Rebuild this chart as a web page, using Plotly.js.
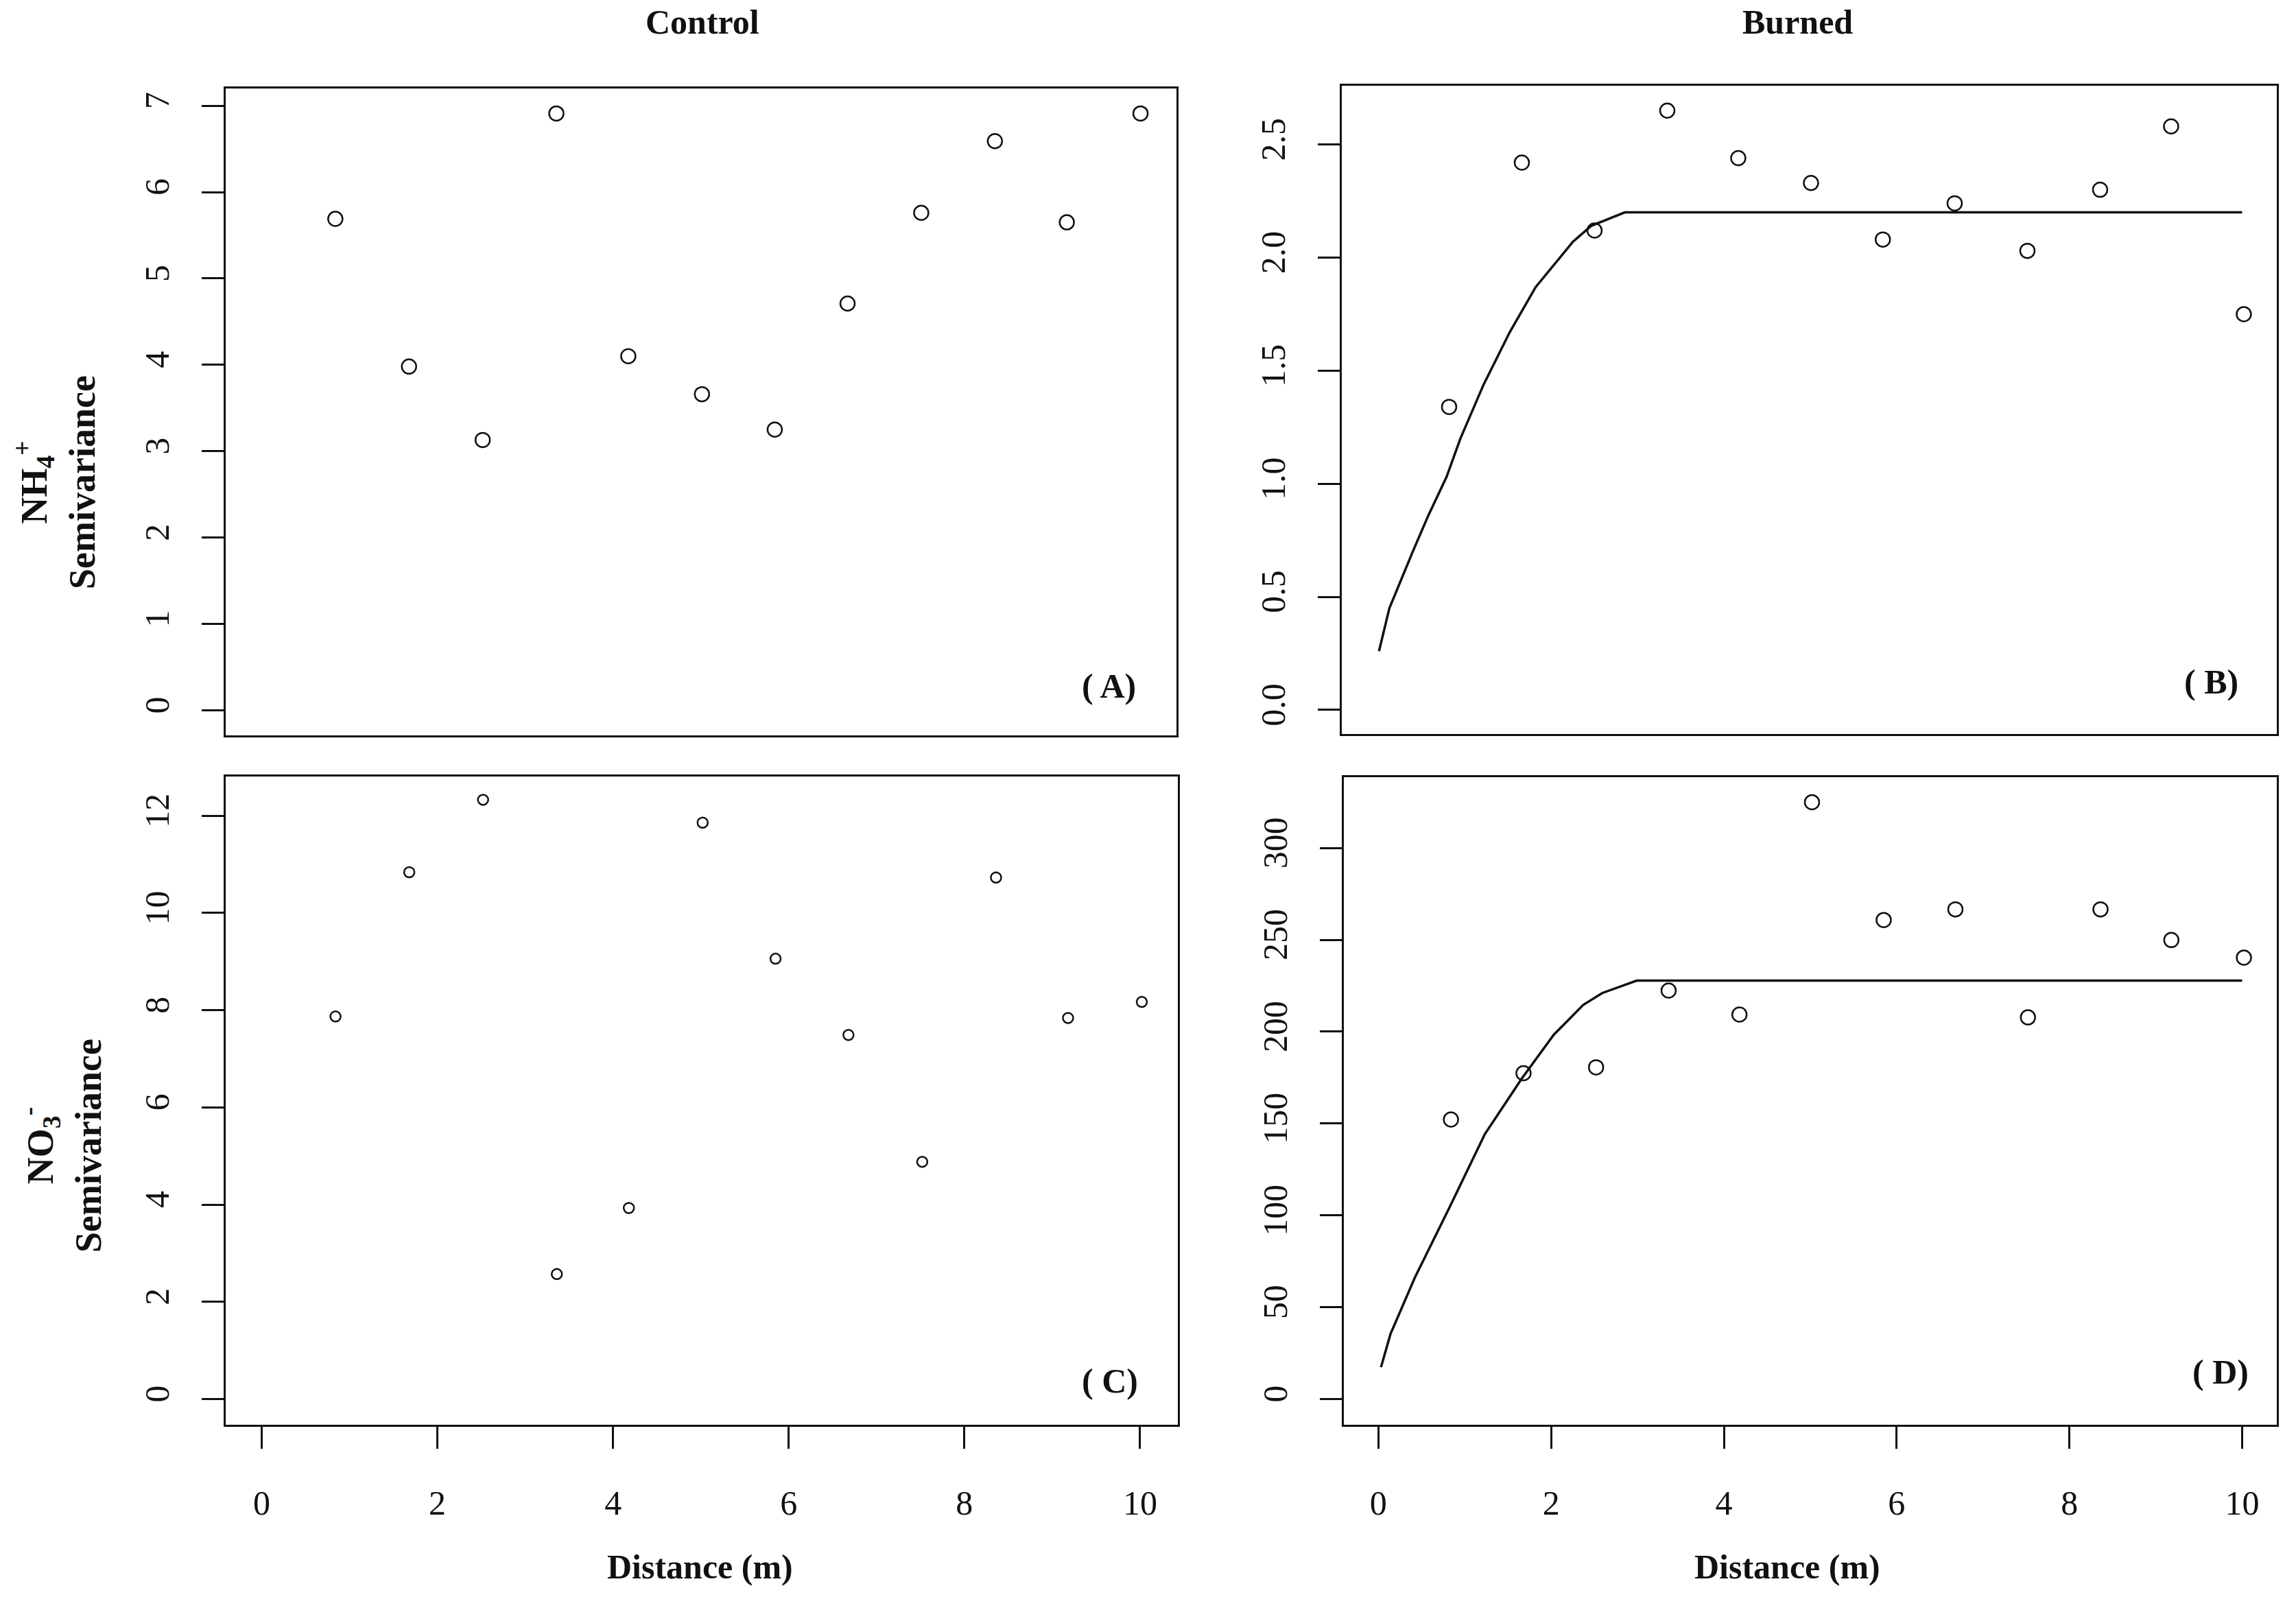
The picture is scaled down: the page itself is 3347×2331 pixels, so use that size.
<!DOCTYPE html>
<html>
<head>
<meta charset="utf-8">
<script src="https://cdn.plot.ly/plotly-3.0.1.min.js"></script>
<style>
  html, body { margin: 0; padding: 0; background: #fff; }
  #chart { width: 3347px; height: 2331px; }
</style>
</head>
<body>
<div id="chart"></div>
<script>
// Lag distances (m) of the experimental semivariograms
const lag = [0.84, 1.68, 2.52, 3.36, 4.18, 5.02, 5.85, 6.68, 7.52, 8.36, 9.18, 10.02];

const nh4Control = [5.69, 3.98, 3.13, 6.91, 4.10, 3.66, 3.25, 4.71, 5.76, 6.59, 5.65, 6.91];
const nh4Burned = [1.34, 2.42, 2.12, 2.65, 2.44, 2.33, 2.08, 2.24, 2.03, 2.30, 2.58, 1.75];
const no3Control = [7.87, 10.84, 12.33, 2.57, 3.93, 11.86, 9.06, 7.49, 4.88, 10.73, 7.84, 8.17];
const no3Burned = [152.2, 177.4, 180.6, 222.4, 209.3, 324.9, 260.8, 266.6, 207.8, 266.6, 249.9, 240.3];

// Fitted model lines (burned plots)
const nh4FitDist = [0.03, 0.15, 0.42, 0.60, 0.81, 0.97, 1.24, 1.54, 1.84, 2.27, 2.48, 2.87, 10.0];
const nh4FitGamma = [0.26, 0.45, 0.70, 0.86, 1.03, 1.20, 1.44, 1.67, 1.87, 2.07, 2.14, 2.20, 2.20];
const no3FitDist = [0.03, 0.14, 0.42, 0.82, 1.23, 1.66, 2.03, 2.37, 2.59, 2.99, 10.0];
const no3FitGamma = [17.3, 35.4, 65.9, 104, 144, 174.5, 198.3, 214.5, 221, 227.8, 227.8];

// Tick labels
const xTicks = [0, 2, 4, 6, 8, 10];
const nh4CtrlTicks = [0, 1, 2, 3, 4, 5, 6, 7];
const nh4BurnTicks = [0, 0.5, 1.0, 1.5, 2.0, 2.5];
const no3CtrlTicks = [0, 2, 4, 6, 8, 10, 12];
const no3BurnTicks = [0, 50, 100, 150, 200, 250, 300];

const SERIF = "'Liberation Serif', 'Times New Roman', serif";
const INK = '#111';

function points(x, y, xa, ya, size) {
    return {
        type: 'scatter', mode: 'markers', x: x, y: y, xaxis: xa, yaxis: ya,
        marker: { symbol: 'circle-open', size: size, color: INK, line: { width: 2.5, color: INK } },
        showlegend: false, hoverinfo: 'x+y'
    };
}

function fitLine(x, y, xa, ya) {
    return {
        type: 'scatter', mode: 'lines', x: x, y: y, xaxis: xa, yaxis: ya,
        line: { color: INK, width: 3.5 },
        showlegend: false, hoverinfo: 'skip'
    };
}

const data = [
    points(lag, nh4Control, 'x', 'y', 21),
    points(lag, nh4Burned, 'x2', 'y2', 21),
    points(lag, no3Control, 'x3', 'y3', 15),
    points(lag, no3Burned, 'x4', 'y4', 21),
    fitLine(nh4FitDist, nh4FitGamma, 'x2', 'y2'),
    fitLine(no3FitDist, no3FitGamma, 'x4', 'y4')
];

function xAxis(domain, range, anchor, showTicks) {
    return {
        domain: domain, range: range, anchor: anchor,
        showgrid: false, zeroline: false,
        showline: true, mirror: true, linecolor: INK, linewidth: 3,
        tickmode: 'array', tickvals: xTicks,
        ticks: showTicks ? 'outside' : '', ticklen: 32, tickwidth: 3, tickcolor: INK,
        showticklabels: showTicks, ticklabelstandoff: 36,
        tickfont: { family: SERIF, size: 50, color: INK }
    };
}

function yAxis(domain, range, anchor, vals, fmt) {
    return {
        domain: domain, range: range, anchor: anchor,
        showgrid: false, zeroline: false,
        showline: true, mirror: true, linecolor: INK, linewidth: 3,
        tickmode: 'array', tickvals: vals, tickformat: fmt,
        ticks: 'outside', ticklen: 32, tickwidth: 3, tickcolor: INK,
        tickangle: -90, ticklabelstandoff: 28,
        tickfont: { family: SERIF, size: 50, color: INK }
    };
}

function textNote(text, x, y, size, angle) {
    return {
        text: text, xref: 'paper', yref: 'paper', x: x, y: y,
        xanchor: 'center', yanchor: 'middle', showarrow: false,
        textangle: angle || 0,
        font: { family: SERIF, size: size, color: INK }
    };
}

function panelTag(text, xa, ya, x, y) {
    return {
        text: text, xref: xa + ' domain', yref: ya + ' domain', x: x, y: y,
        xanchor: 'center', yanchor: 'middle', showarrow: false,
        font: { family: SERIF, size: 50, color: INK }
    };
}

const layout = {
    width: 3347, height: 2331,
    margin: { l: 0, r: 0, t: 0, b: 0, pad: 0 },
    paper_bgcolor: '#fff', plot_bgcolor: '#fff',
    font: { family: SERIF, color: INK },
    xaxis: xAxis([0.0983, 0.5124], [-0.41, 10.43], 'y', false),
    xaxis2: xAxis([0.5844, 0.9916], [-0.4, 10.4], 'y2', false),
    xaxis3: xAxis([0.0983, 0.5130], [-0.41, 10.43], 'y3', true),
    xaxis4: xAxis([0.5853, 0.9916], [-0.4, 10.4], 'y4', true),
    yaxis: yAxis([0.5401, 0.9447], [-0.29, 7.2], 'x', nh4CtrlTicks, 'd'),
    yaxis2: yAxis([0.5410, 0.9464], [-0.106, 2.76], 'x2', nh4BurnTicks, '.1f'),
    yaxis3: yAxis([0.1090, 0.5144], [-0.53, 12.81], 'x3', no3CtrlTicks, 'd'),
    yaxis4: yAxis([0.1090, 0.5140], [-14, 338.6], 'x4', no3BurnTicks, 'd'),
    annotations: [
        textNote('<b>Control</b>', 0.306, 0.9863, 50),
        textNote('<b>Burned</b>', 0.7828, 0.9863, 50),
        textNote('<b>Distance (m)</b>', 0.3048, 0.0202, 50),
        textNote('<b>Distance (m)</b>', 0.7786, 0.0202, 50),
        textNote('<b>NH<sub>4</sub><sup>+</sup><br>Semivariance</b>', 0.0239, 0.6984, 54, -90),
        textNote('<b>NO<sub>3</sub><sup>-</sup><br>Semivariance</b>', 0.0269, 0.2836, 54, -90),
        panelTag('<b>( A)</b>', 'x', 'y', 0.929, 0.076),
        panelTag('<b>( B)</b>', 'x2', 'y2', 0.93, 0.08),
        panelTag('<b>( C)</b>', 'x3', 'y3', 0.929, 0.068),
        panelTag('<b>( D)</b>', 'x4', 'y4', 0.94, 0.081)
    ]
};

Plotly.newPlot('chart', data, layout, { displayModeBar: false, responsive: false });
</script>
</body>
</html>
